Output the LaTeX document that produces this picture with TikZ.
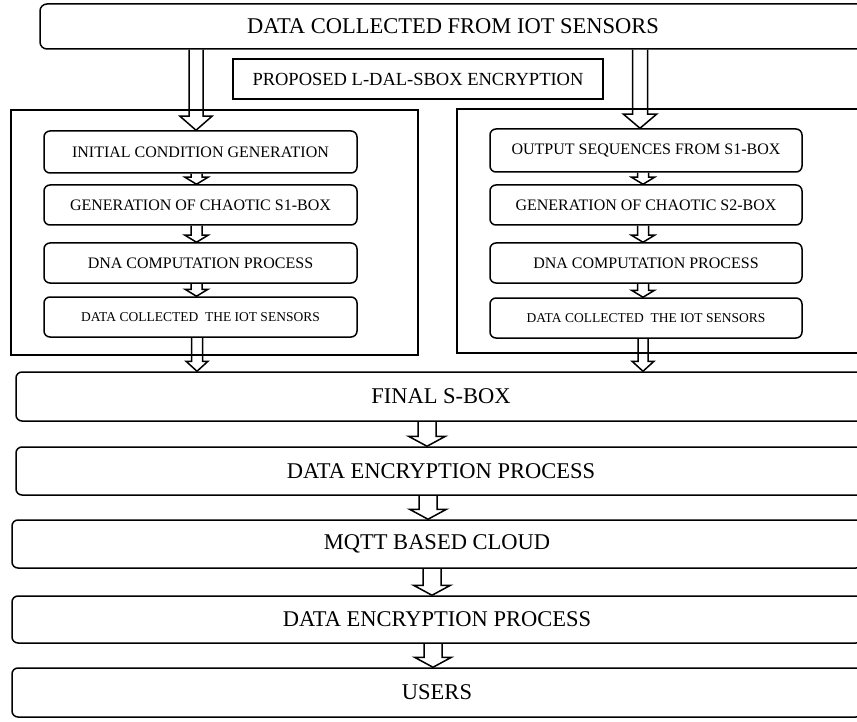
\documentclass[tikz,border=0pt]{standalone}
\usepackage{fontspec}
\setmainfont{Liberation Serif}
\usetikzlibrary{
    positioning,
    calc
}

\tikzset{
    stage/.style={draw, line width=1.5pt, rounded corners=6pt, align=center, inner sep=0pt},
    substage/.style={stage, minimum width=313pt, minimum height=40pt, font=\fontsize{16}{19}\selectfont},
    widestage/.style={stage, minimum width=850pt, minimum height=48pt, font=\fontsize{22.5}{26}\selectfont},
    frame/.style={draw, line width=2.2pt},
    hollow/.style={draw, line width=1.5pt, line join=miter}
}

% hollow block arrow: shaft half width, head half width, head length, from, to
\newcommand{\blockarrow}[5]{%
    \draw[hollow] let \p1=#4, \p2=#5 in
        (\x2-#1pt,\y1) -- (\x2-#1pt,\y2+#3pt) -- (\x2-#2pt,\y2+#3pt) -- (\x2,\y2)
        -- (\x2+#2pt,\y2+#3pt) -- (\x2+#1pt,\y2+#3pt) -- (\x2+#1pt,\y1);%
}

\begin{document}
\begin{tikzpicture}[x=1pt, y=-1pt]
        \clip (0,0) rectangle (857,722);

        % Sensor input
        \node[stage, rounded corners=7pt, minimum width=826pt, minimum height=45pt, font=\fontsize{22.5}{26}\selectfont] (sensors) at (453,26.5) {DATA COLLECTED FROM IOT SENSORS};
        \node[draw, line width=1.7pt, minimum width=370pt, minimum height=40pt, inner sep=0pt, font=\fontsize{18.5}{22}\selectfont] (proposed) at (418,79) {PROPOSED L-DAL-SBOX ENCRYPTION};

        % Left branch
        \draw[frame] (11,110) rectangle (418,355);
        \node[substage, minimum height=42pt] (left1) at (200.5,152) {INITIAL CONDITION GENERATION};
        \node[substage] (left2) at (200.5,205) {GENERATION OF CHAOTIC S1-BOX};
        \node[substage] (left3) at (200.5,263) {DNA COMPUTATION PROCESS};
        \node[substage, font=\fontsize{13.5}{16}\selectfont] (left4) at (200.5,317) {DATA COLLECTED\ \ THE IOT SENSORS};

        % Right branch
        \draw[frame] (457,109) rectangle (870,353);
        \node[substage, minimum width=312pt, minimum height=43pt] (right1) at (646,150.5) {OUTPUT SEQUENCES FROM S1-BOX};
        \node[substage, minimum width=312pt] (right2) at (646,205) {GENERATION OF CHAOTIC S2-BOX};
        \node[substage, minimum width=312pt] (right3) at (646,263) {DNA COMPUTATION PROCESS};
        \node[substage, minimum width=312pt, font=\fontsize{13.5}{16}\selectfont] (right4) at (646,318) {DATA COLLECTED\ \ THE IOT SENSORS};

        % Common chain
        \node[widestage, minimum height=49pt] (final) at (441,396.5) {FINAL S-BOX};
        \node[widestage] (encrypt) at (441,471) {DATA ENCRYPTION PROCESS};
        \node[widestage] (cloud) at (437,544) {MQTT BASED CLOUD};
        \node[widestage, minimum height=47pt] (decrypt) at (437,619.5) {DATA ENCRYPTION PROCESS};
        \node[widestage, minimum height=49pt] (users) at (437,692.5) {USERS};

        % Arrows into the branches
        \blockarrow{7}{16}{14}{(sensors.south)}{([xshift=-4.5pt]left1.north)}
        \blockarrow{7.5}{16.5}{14}{(sensors.south)}{([xshift=-6pt]right1.north)}

        % Arrows inside the branches
        \foreach \a/\b in {left1/left2, left2/left3, left3/left4} {
            \blockarrow{5.5}{11.5}{7}{(\a.south)}{([xshift=-4pt]\b.north)}
        }
        \foreach \a/\b in {right1/right2, right2/right3, right3/right4} {
            \blockarrow{5.5}{11.5}{7}{(\a.south)}{([xshift=-3pt]\b.north)}
        }

        % Arrows out of the branches
        \blockarrow{5.5}{11}{10}{(left4.south)}{(final.north -| {$(left4.south)+(-3.5pt,0)$})}
        \blockarrow{5}{11}{10}{(right4.south)}{(final.north -| {$(right4.south)+(-3pt,0)$})}

        % Arrows down the chain
        \blockarrow{9}{18.5}{10}{(final.south)}{([xshift=-14pt]encrypt.north)}
        \blockarrow{9}{18.5}{10}{(encrypt.south)}{([xshift=-9pt]cloud.north)}
        \blockarrow{9}{18.5}{10}{(cloud.south)}{([xshift=-5pt]decrypt.north)}
        \blockarrow{9}{18.5}{10}{(decrypt.south)}{([xshift=-4pt]users.north)}
    \end{tikzpicture}
\end{document}
